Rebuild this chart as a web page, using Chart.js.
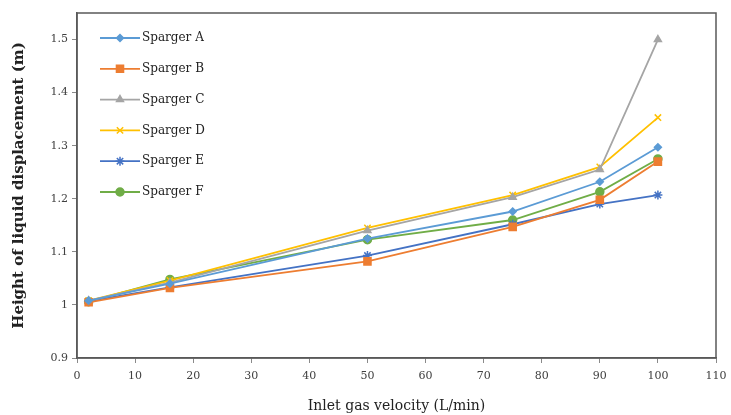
<!DOCTYPE html>
<html>
<head>
<meta charset="utf-8">
<script src="https://cdn.jsdelivr.net/npm/chart.js@4/dist/chart.umd.min.js"></script>
<style>
html,body{margin:0;padding:0;background:#fff;}
#wrap{width:731px;height:415px;position:relative;}
</style>
</head>
<body>
<div id="wrap"><canvas id="c" width="731" height="415"></canvas></div>
<script>
const velocity = [2, 16, 50, 75, 90, 100];
const seriesNames = ['Sparger A','Sparger B','Sparger C','Sparger D','Sparger E','Sparger F'];
const spargerA = [1.008, 1.040, 1.125, 1.176, 1.232, 1.297];
const spargerB = [1.005, 1.032, 1.082, 1.147, 1.198, 1.270];
const spargerC = [1.008, 1.042, 1.140, 1.203, 1.255, 1.500];
const spargerD = [1.008, 1.046, 1.145, 1.207, 1.260, 1.353];
const spargerE = [1.007, 1.033, 1.093, 1.152, 1.190, 1.207];
const spargerF = [1.006, 1.048, 1.123, 1.160, 1.213, 1.275];
const xTitle = 'Inlet gas velocity (L/min)';
const yTitle = 'Height of liquid displacement (m)';

const styles = [
  {color:'#5B9BD5', point:'rectRot', r:3.5},
  {color:'#ED7D31', point:'rect', r:5},
  {color:'#A5A5A5', point:'triangle', r:4},
  {color:'#FFC000', point:'crossRot', r:4.5},
  {color:'#4472C4', point:'star', r:4.5},
  {color:'#70AD47', point:'circle', r:4}
];
const allSeries = [spargerA, spargerB, spargerC, spargerD, spargerE, spargerF];

const datasets = allSeries.map((vals, i) => ({
  label: seriesNames[i],
  data: velocity.map((v, j) => ({x: v, y: vals[j]})),
  borderColor: styles[i].color,
  backgroundColor: styles[i].color,
  pointStyle: styles[i].point,
  pointRadius: styles[i].r,
  pointBorderWidth: 1.5,
  borderWidth: 1.8,
  tension: 0,
  fill: false
}));

const serif = 'DejaVu Serif, Liberation Serif, serif';

function drawMarker(ctx, style, x, y, r, color) {
  ctx.save();
  ctx.fillStyle = color; ctx.strokeStyle = color; ctx.lineWidth = 1.5;
  if (Chart.helpers && Chart.helpers.drawPoint) {
    Chart.helpers.drawPoint(ctx, {pointStyle: style, radius: r, rotation: 0, borderWidth: 1.5}, x, y);
  } else {
    ctx.beginPath(); ctx.arc(x, y, r, 0, Math.PI*2); ctx.fill();
  }
  ctx.restore();
}

const framePlugin = {
  id: 'frame',
  beforeDatasetsDraw(chart) {
    const a = chart.chartArea, ctx = chart.ctx;
    ctx.save();
    ctx.strokeStyle = '#595959';
    ctx.lineWidth = 1.5;
    ctx.strokeRect(a.left, a.top, a.right - a.left, a.bottom - a.top);
    ctx.restore();
  },
  afterDraw(chart) {
    const a = chart.chartArea, ctx = chart.ctx;
    const x0 = a.left + 23, x1 = a.left + 63, y0 = a.top + 25, dy = 30.8;
    chart.data.datasets.forEach((ds, i) => {
      const y = y0 + i * dy;
      ctx.save();
      ctx.strokeStyle = ds.borderColor;
      ctx.lineWidth = 1.8;
      ctx.beginPath(); ctx.moveTo(x0, y); ctx.lineTo(x1, y); ctx.stroke();
      ctx.restore();
      drawMarker(ctx, ds.pointStyle, (x0 + x1) / 2, y, ds.pointRadius, ds.borderColor);
      ctx.save();
      ctx.fillStyle = '#222';
      ctx.font = '12px ' + serif;
      ctx.textBaseline = 'middle';
      ctx.textAlign = 'left';
      ctx.fillText(ds.label, x1 + 2, y);
      ctx.restore();
    });
  }
};

new Chart(document.getElementById('c'), {
  type: 'line',
  data: {datasets},
  plugins: [framePlugin],
  options: {
    responsive: false,
    animation: false,
    devicePixelRatio: 1,
    layout: {padding: {left: 0, right: 15, top: 13, bottom: 0}},
    plugins: {legend: {display: false}, tooltip: {enabled: false}},
    scales: {
      x: {
        type: 'linear', min: 0, max: 110,
        ticks: {stepSize: 10, font: {family: serif, size: 11}, color: '#404040', padding: 7, maxRotation: 0},
        grid: {drawOnChartArea: false, drawTicks: true, tickLength: 5, color: '#8a8a8a'},
        border: {color: '#595959', width: 1.5},
        title: {display: true, text: xTitle, font: {family: serif, size: 14}, color: '#222', padding: {top: 2, bottom: 0}},
        afterFit(s) { s.height = 57; s.paddingRight = 0; s.paddingLeft = 0; }
      },
      y: {
        type: 'linear', min: 0.9, max: 1.55,
        afterBuildTicks(s) { s.ticks = s.ticks.filter(t => Math.abs(Math.round(t.value * 10) - t.value * 10) < 1e-6); },
        ticks: {stepSize: 0.1, font: {family: serif, size: 11}, color: '#404040', padding: 4,
          callback: v => String(Number(v.toFixed(1)))},
        grid: {drawOnChartArea: false, drawTicks: true, tickLength: 5, color: '#8a8a8a'},
        border: {color: '#595959', width: 1.5},
        title: {display: true, text: yTitle, font: {family: serif, size: 15, weight: 'bold'}, color: '#222', padding: {top: 10, bottom: 10}},
        afterFit(s) { s.width = 77; s.paddingTop = 0; s.paddingBottom = 0; }
      }
    }
  }
});
</script>
</body>
</html>
